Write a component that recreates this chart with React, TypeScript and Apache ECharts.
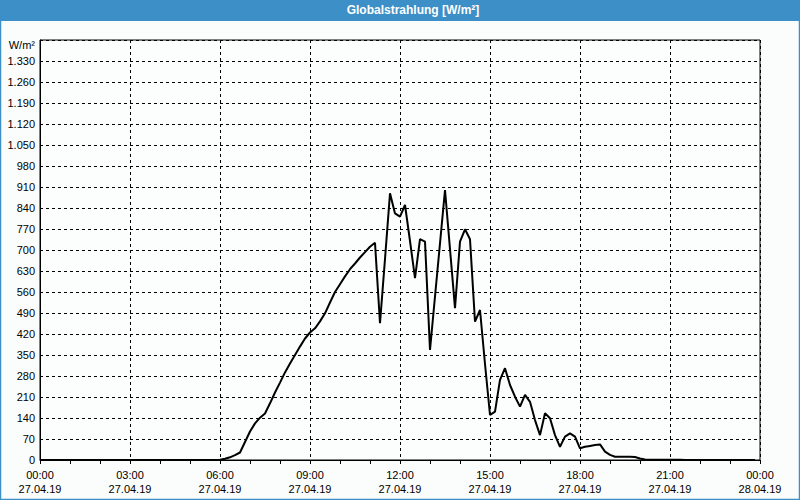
import React, { useEffect, useRef } from "react";
import * as echarts from "echarts";

const title = "Globalstrahlung [W/m²]";
const unitLabel = "W/m²";
const timeLabels = ["00:00", "03:00", "06:00", "09:00", "12:00", "15:00", "18:00", "21:00", "00:00"];
const dateLabels = ["27.04.19", "27.04.19", "27.04.19", "27.04.19", "27.04.19", "27.04.19", "27.04.19", "27.04.19", "28.04.19"];
// 10-minute values from 00:00 to 23:50
const values = [
  0, 0, 0, 0, 0, 0, 0, 0, 0, 0, 0, 0,
  0, 0, 0, 0, 0, 0, 0, 0, 0, 0, 0, 0,
  0, 0, 0, 0, 0, 0, 0, 0, 0, 0, 0, 0,
  1, 4, 9, 16, 25, 60, 95, 122, 141, 155, 189, 225,
  258, 292, 322, 350, 378, 405, 425, 439, 462, 489, 525, 560,
  586, 612, 636, 655, 675, 693, 711, 724, 456, 670, 889, 822,
  811, 850, 730, 606, 736, 728, 367, 545, 722, 900, 703, 506,
  728, 769, 736, 461, 500, 320, 150, 161, 267, 306, 250, 211,
  178, 217, 194, 133, 83, 156, 139, 83, 44, 78, 89, 78,
  39, 44, 47, 50, 52, 28, 17, 11, 11, 11, 11, 10,
  5, 2, 1, 1, 1, 1, 1, 1, 1, 0, 0, 0,
  0, 0, 0, 0, 0, 0, 0, 0, 0, 0, 0, 0,
];
const stepMinutes = 10;

const FONT = "'Liberation Sans', Arial, sans-serif";

export default function App() {
  const ref = useRef<HTMLDivElement>(null);
  useEffect(() => {
    if (!ref.current) return;
    const chart = echarts.init(ref.current, null, { renderer: "svg" });
    const data = values.map((v, i) => [i * stepMinutes, v]);
    chart.setOption({
      animation: false,
      backgroundColor: "#fbfdfc",
      textStyle: { fontFamily: FONT },
      graphic: [
        { type: "rect", left: 0, top: 0, shape: { x: 0, y: 0, width: 800, height: 21 }, style: { fill: "#3d8fc7" }, z: 10 },
        { type: "rect", shape: { x: 0.5, y: 0.5, width: 799, height: 499 }, style: { fill: "none", stroke: "#3d8fc7", lineWidth: 1.5 }, z: 10 },
        { type: "text", x: 413, y: 10, style: { text: title, fill: "#ffffff", font: `bold 12px ${FONT}`, align: "center", verticalAlign: "middle" }, z: 11 },
      ],
      grid: { left: 40, right: 40, top: 40, bottom: 40, show: true, borderColor: "#000", borderWidth: 1, backgroundColor: "#fcfefd" },
      xAxis: {
        type: "value",
        min: 0,
        max: 1440,
        interval: 180,
        axisLine: { show: true, lineStyle: { color: "#000", width: 1 } },
        axisTick: { show: true, length: 4, lineStyle: { color: "#000" } },
        minorTick: { show: true, splitNumber: 3, length: 4, lineStyle: { color: "#000" } },
        splitLine: { show: true, lineStyle: { color: "#000", type: [3, 3], width: 1 } },
        axisLabel: {
          color: "#000",
          fontSize: 11,
          fontFamily: FONT,
          margin: 8,
          lineHeight: 14,
          showMinLabel: true,
          showMaxLabel: true,
          formatter: (v: number) => {
            const i = Math.round(v / 180);
            return `${timeLabels[i]}\n${dateLabels[i]}`;
          },
        },
      },
      yAxis: {
        type: "value",
        min: 0,
        max: 1400,
        interval: 70,
        axisLine: { show: true, lineStyle: { color: "#000", width: 1 } },
        axisTick: { show: false },
        splitLine: { show: true, lineStyle: { color: "#000", type: [3, 3], width: 1 } },
        axisLabel: {
          color: "#000",
          fontSize: 11,
          fontFamily: FONT,
          margin: 5,
          showMaxLabel: true,
          rich: { u: { fontSize: 11, color: "#000", fontFamily: FONT, padding: [9, 0, 0, 0] } },
          formatter: (v: number) => {
            if (v >= 1400) return `{u|${unitLabel}}`;
            return v >= 1000 ? `${Math.floor(v / 1000)}.${String(v % 1000).padStart(3, "0")}` : String(v);
          },
        },
      },
      series: [
        {
          type: "line",
          data,
          showSymbol: false,
          symbol: "none",
          lineStyle: { color: "#000", width: 2 },
          z: 5,
        },
      ],
    });
    return () => chart.dispose();
  }, []);
  return <div ref={ref} style={{ position: "fixed", left: 0, top: 0, width: 800, height: 500 }} />;
}
